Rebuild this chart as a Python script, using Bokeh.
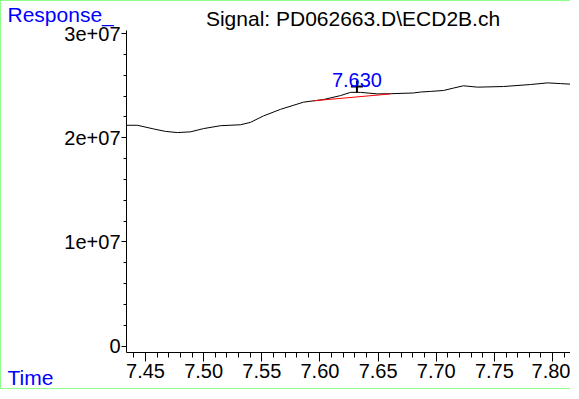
from bokeh.plotting import figure
from bokeh.models import FixedTicker, Label, ColumnDataSource, LinearAxis
from bokeh.core.properties import value
from bokeh.embed import file_html
from bokeh.resources import INLINE
import numpy as np

# ---- data ----
time = [7.4337, 7.4431, 7.4569, 7.4672, 7.4775, 7.4887, 7.4999, 7.5145, 7.5317,
        7.5403, 7.5515, 7.5661, 7.5859, 7.6031, 7.6177, 7.6263, 7.6349, 7.6495,
        7.6607, 7.6804, 7.6865, 7.6951, 7.7063, 7.7148, 7.7234, 7.7355, 7.7578,
        7.7810, 7.7957, 7.8068, 7.8215, 7.8232]
response = [2.119e7, 2.119e7, 2.084e7, 2.060e7, 2.049e7, 2.056e7, 2.087e7, 2.115e7, 2.124e7,
            2.147e7, 2.209e7, 2.272e7, 2.341e7, 2.366e7, 2.404e7, 2.435e7, 2.435e7, 2.420e7,
            2.422e7, 2.429e7, 2.438e7, 2.444e7, 2.453e7, 2.476e7, 2.498e7, 2.485e7, 2.491e7,
            2.510e7, 2.526e7, 2.519e7, 2.510e7, 2.510e7]

baseline_time = [7.5945, 7.6607]
baseline_response = [2.354e7, 2.420e7]

peak_time = [7.6318]
peak_response = [2.491e7]
peak_label = ["7.630"]

x_ticks = [7.45, 7.50, 7.55, 7.60, 7.65, 7.70, 7.75, 7.80]
x_tick_labels = ["7.45", "7.50", "7.55", "7.60", "7.65", "7.70", "7.75", "7.80"]
y_ticks = [0, 1e7, 2e7, 3e7]
y_tick_labels = ["0", "1e+07", "2e+07", "3e+07"]

x_axis_start = 7.4337      # where the time axis begins
y_axis_bounds = (-6.24e5, 3.0288e7)

title_text = "Signal: PD062663.D\\ECD2B.ch"
y_title = "Response_"
x_title = "Time"

FONT = "Liberation Sans"
BLUE = "#0000ff"
GREEN = "#8cff8c"

# the frame covers the whole canvas; axes are pinned inside it
p = figure(width=570, height=389,
           x_range=(7.32618, 7.81630), y_range=(-4.2719e6, 3.3072e7),
           x_axis_location=None, y_axis_location=None,
           output_backend="svg", toolbar_location=None,
           min_border=0)
p.styles = {"border-left": f"1px solid {GREEN}",
            "border-top": f"1px solid {GREEN}",
            "border-bottom": f"1px solid {GREEN}"}

p.outline_line_color = None
p.xgrid.visible = False
p.ygrid.visible = False
p.background_fill_color = "white"
p.border_fill_color = "white"

# x axis
xaxis = LinearAxis(fixed_location=y_axis_bounds[0], bounds=(x_axis_start, 7.8163),
                   ticker=FixedTicker(ticks=x_ticks,
                                      minor_ticks=list(np.round(np.arange(7.44, 7.82, 0.01), 2))))
xaxis.major_label_overrides = {t: l for t, l in zip(x_ticks, x_tick_labels)}
xaxis.major_tick_in = 0
xaxis.major_tick_out = 9
xaxis.minor_tick_in = 0
xaxis.minor_tick_out = 5
xaxis.major_label_standoff = 2
xaxis.major_label_text_font = FONT
xaxis.major_label_text_font_size = "20px"
xaxis.major_label_text_color = "black"
xaxis.axis_line_color = "black"
p.add_layout(xaxis, "below")

# y axis
yaxis = LinearAxis(fixed_location=x_axis_start, bounds=y_axis_bounds,
                   ticker=FixedTicker(ticks=y_ticks,
                                      minor_ticks=list(np.arange(0, 3.1e7, 2e6))))
yaxis.major_label_overrides = {t: l for t, l in zip(y_ticks, y_tick_labels)}
yaxis.major_tick_in = 0
yaxis.major_tick_out = 5
yaxis.minor_tick_in = 0
yaxis.minor_tick_out = 3
yaxis.major_label_standoff = 1
yaxis.major_label_text_font = FONT
yaxis.major_label_text_font_size = "20px"
yaxis.major_label_text_color = "black"
yaxis.axis_line_color = "black"
p.add_layout(yaxis, "left")

# signal
p.line(time, response, line_color="black", line_width=1)
# integration baseline
p.line(baseline_time, baseline_response, line_color="red", line_width=1)
# peak apex marker and label
src = ColumnDataSource(dict(x=peak_time, y=peak_response, t=peak_label))
p.scatter("x", "y", source=src, marker="cross", size=12, line_width=2, line_color="black")
p.text("x", "y", text="t", source=src, text_align="center", text_baseline="alphabetic",
       y_offset=-7, text_font=value(FONT), text_font_size="20px", text_color=BLUE)

# header / axis titles
p.add_layout(Label(x=7.62842, y=3.1487e7, text=title_text,
                   text_align="center", text_baseline="alphabetic",
                   text_font=FONT, text_font_size="21px", text_color="black"))
p.add_layout(Label(x=7.33134, y=3.1871e7, text=y_title,
                   text_align="left", text_baseline="alphabetic",
                   text_font=FONT, text_font_size="21px", text_color=BLUE))
p.add_layout(Label(x=7.33134, y=-2.976e6, text=x_title,
                   text_align="left", text_baseline="alphabetic",
                   text_font=FONT, text_font_size="21px", text_color=BLUE))

open("out.html", "w").write(file_html(p, INLINE))
